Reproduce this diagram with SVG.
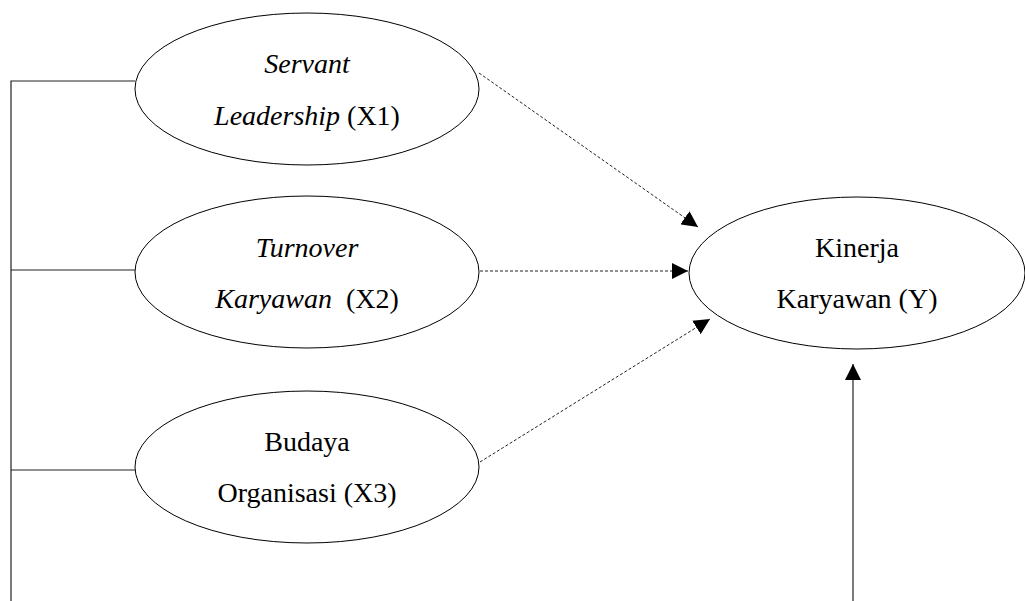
<svg xmlns="http://www.w3.org/2000/svg" width="1025" height="601" viewBox="0 0 1025 601">
<style>
.node{fill:#fff;stroke:#000;stroke-width:1}
text{font-family:'Liberation Serif','Times New Roman','DejaVu Serif',serif;font-size:28px;fill:#000;text-anchor:middle}
.i{font-style:italic}
.solid{fill:none;stroke:#222;stroke-width:1.2}
.dash{fill:none;stroke:#222;stroke-width:1;stroke-dasharray:3 2}
</style>
<defs>
<marker id="ah" viewBox="0 0 10 10" refX="10" refY="5" markerWidth="16" markerHeight="16" markerUnits="userSpaceOnUse" orient="auto">
<path d="M0,0 L10,5 L0,10 Z" fill="#000"/>
</marker>
</defs>
<rect width="1025" height="601" fill="#fff"/>
<g id="connectors">
<polyline class="solid" points="135,81 11,81 11,601"/>
<line class="solid" x1="11" y1="270" x2="135" y2="270"/>
<line class="solid" x1="11" y1="470" x2="135" y2="470"/>
<line class="solid" x1="853" y1="601" x2="853" y2="364" marker-end="url(#ah)"/>
<line class="dash" x1="479" y1="73" x2="698" y2="227" marker-end="url(#ah)"/>
<line class="dash" x1="480" y1="271" x2="688" y2="271" marker-end="url(#ah)"/>
<line class="dash" x1="480" y1="462" x2="710" y2="319" marker-end="url(#ah)"/>
</g>
<g id="x1">
<ellipse class="node" cx="307" cy="89" rx="172" ry="76"/>
<text class="i" x="307" y="73" font-family="Liberation Serif, serif">Servant</text>
<text x="307" y="125" font-family="Liberation Serif, serif"><tspan class="i">Leadership</tspan> (X1)</text>
</g>
<g id="x2">
<ellipse class="node" cx="307" cy="272" rx="172" ry="76"/>
<text class="i" x="307" y="257" font-family="Liberation Serif, serif">Turnover</text>
<text x="307" y="308" font-family="Liberation Serif, serif" xml:space="preserve"><tspan class="i">Karyawan</tspan>  (X2)</text>
</g>
<g id="x3">
<ellipse class="node" cx="307" cy="467" rx="172" ry="76"/>
<text x="307" y="451" font-family="Liberation Serif, serif">Budaya</text>
<text x="307" y="502" font-family="Liberation Serif, serif">Organisasi (X3)</text>
</g>
<g id="y">
<ellipse class="node" cx="857" cy="273" rx="168" ry="76"/>
<text x="857" y="257" font-family="Liberation Serif, serif">Kinerja</text>
<text x="857" y="308" font-family="Liberation Serif, serif">Karyawan (Y)</text>
</g>
</svg>
